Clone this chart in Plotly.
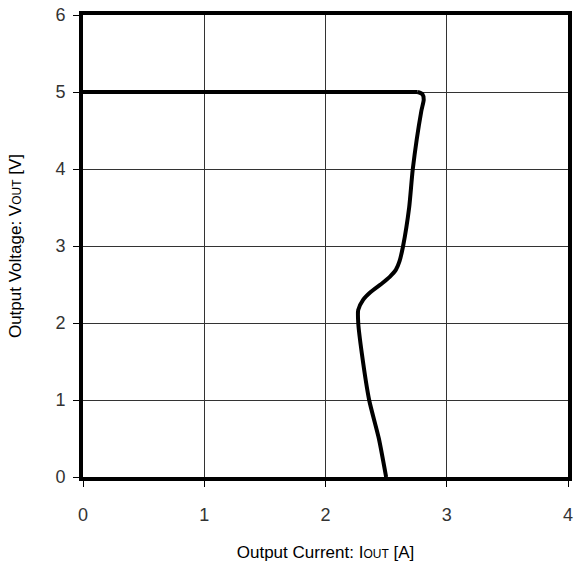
import plotly.graph_objects as go

# Constant-voltage segment
cv_current = [0.0, 2.76]
cv_voltage = [5.0, 5.0]

# Current-limit foldback segment
current = [2.76, 2.80, 2.81, 2.79, 2.72, 2.69, 2.64, 2.61, 2.58, 2.53, 2.47, 2.37, 2.31, 2.27, 2.27, 2.30, 2.36, 2.44, 2.50]
voltage = [5.0, 4.97, 4.9, 4.75, 4.0, 3.5, 3.0, 2.8, 2.69, 2.6, 2.52, 2.4, 2.3, 2.17, 2.0, 1.6, 1.0, 0.5, 0.0]

x_ticks = [0, 1, 2, 3, 4]
y_ticks = [0, 1, 2, 3, 4, 5, 6]

fig = go.Figure()
fig.add_trace(go.Scatter(x=cv_current, y=cv_voltage, mode="lines",
                         line=dict(color="black", width=4), showlegend=False))
fig.add_trace(go.Scatter(x=current, y=voltage, mode="lines",
                         line=dict(color="black", width=4, shape="spline", smoothing=0.6),
                         showlegend=False))

fig.update_layout(
    width=582, height=570,
    margin=dict(l=83, r=14, t=15, b=93),
    paper_bgcolor="white", plot_bgcolor="white",
    font=dict(family="Arial, Liberation Sans", color="black", size=17),
)
fig.update_xaxes(
    range=[0, 4], tickvals=x_ticks, ticktext=[str(v) for v in x_ticks],
    showgrid=True, gridcolor="#333333", gridwidth=1,
    showline=True, linecolor="black", linewidth=4, mirror=True,
    ticks="outside", ticklen=6, tickcolor="black", tickwidth=1,
    tickfont=dict(size=18, color="#333333"), ticklabelstandoff=12,
    zeroline=False, automargin=False,
    title=dict(text="Output Current: I<span style='font-size:12px'>OUT</span> [A]", font=dict(size=17), standoff=24),
)
fig.update_yaxes(
    range=[0, 6], tickvals=y_ticks, ticktext=[str(v) for v in y_ticks],
    showgrid=True, gridcolor="#333333", gridwidth=1,
    showline=True, linecolor="black", linewidth=4, mirror=True,
    ticks="outside", ticklen=6, tickcolor="black", tickwidth=1,
    tickfont=dict(size=18, color="#333333"), ticklabelstandoff=4,
    zeroline=False, automargin=False,
    title=dict(text="Output Voltage: V<span style='font-size:12px'>OUT</span> [V]", font=dict(size=17), standoff=30),
)

fig.write_html("out.html", config={"displayModeBar": False})
with open("out.html", "r", encoding="utf-8") as f:
    html = f.read()
html = html.replace("<body>", "<body style=\"margin:0;padding:0\">", 1)
with open("out.html", "w", encoding="utf-8") as f:
    f.write(html)
